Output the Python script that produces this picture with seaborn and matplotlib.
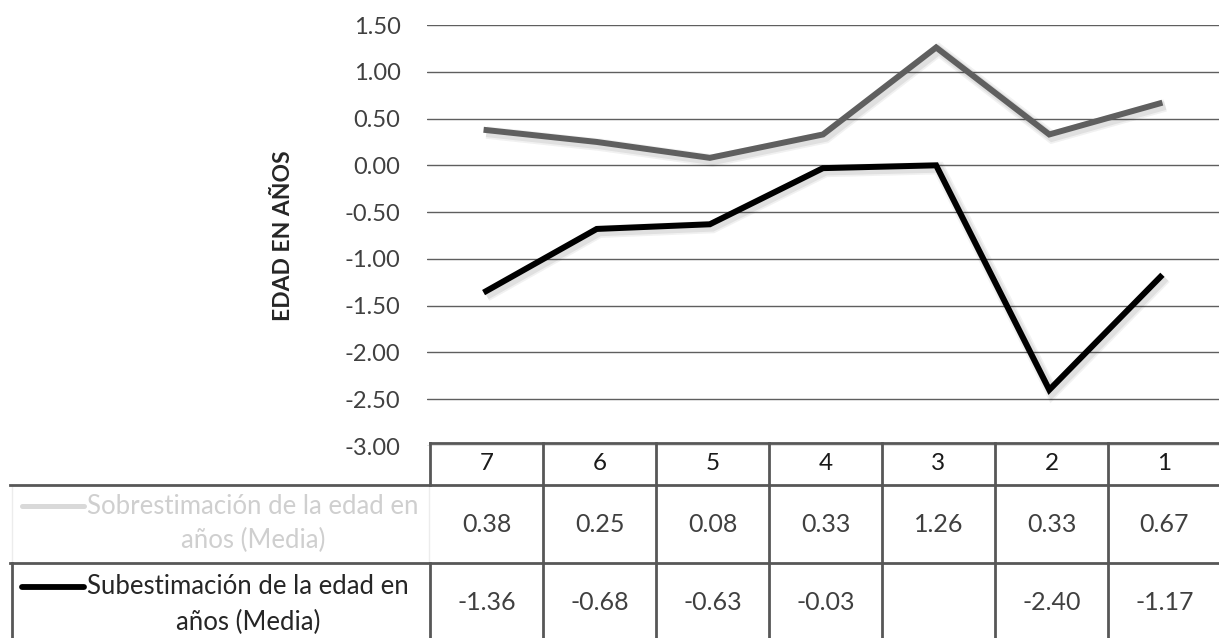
import numpy as np
import pandas as pd
import matplotlib
matplotlib.use("Agg")
import matplotlib.pyplot as plt
import matplotlib.patheffects as pe
from matplotlib.lines import Line2D
import seaborn as sns

# ---- data ----
categorias = ["7", "6", "5", "4", "3", "2", "1"]
sobrestimacion = [0.38, 0.25, 0.08, 0.33, 1.26, 0.33, 0.67]
subestimacion = [-1.36, -0.68, -0.63, -0.03, 0.00, -2.40, -1.17]
serie_sobre = "Sobrestimación de la edad en años (Media)"
serie_sub = "Subestimación de la edad en años (Media)"
y_ticks = [1.50, 1.00, 0.50, 0.00, -0.50, -1.00, -1.50, -2.00, -2.50, -3.00]
y_label = "EDAD EN AÑOS"

df = pd.DataFrame({
    "pos": list(range(len(categorias))) * 2,
    "valor": sobrestimacion + subestimacion,
    "serie": [serie_sobre] * len(categorias) + [serie_sub] * len(categorias),
})

# ---- figure ----
W, H = 1219, 638
sns.set_theme(style="white")
plt.rcParams["font.family"] = ["Lato", "DejaVu Sans"]

fig = plt.figure(figsize=(W / 100, H / 100), dpi=100)


def fx(px):
    return px / W


def fy(py):
    return 1 - py / H


ax = fig.add_axes([fx(427), fy(446), fx(1219) - fx(427), fy(25) - fy(446)])

colores = {serie_sobre: "#5f5f5f", serie_sub: "#000000"}
sns.lineplot(data=df, x="pos", y="valor", hue="serie", palette=colores,
             sort=False, legend=False, ax=ax, linewidth=4.3)

for ln in ax.get_lines():
    ln.set_solid_capstyle("butt")
    ln.set_solid_joinstyle("miter")
    ln.set_path_effects([
        pe.SimpleLineShadow(offset=(2.0, -2.0), shadow_color="k", alpha=0.06, linewidth=9),
        pe.SimpleLineShadow(offset=(2.0, -2.0), shadow_color="k", alpha=0.08, linewidth=6.5),
        pe.Normal(),
    ])

ax.set_xlim(-0.5, len(categorias) - 0.5)
ax.set_ylim(-3.0, 1.5)
ax.set_yticks(y_ticks)
ax.set_yticklabels([f"{v:.2f}" for v in y_ticks])
ax.set_xticks([])
ax.set_xlabel("")
ax.set_ylabel("")
ax.yaxis.grid(True, color="#5f5f5f", linewidth=1.0)
ax.set_axisbelow(True)
for s in ax.spines.values():
    s.set_visible(False)
ax.tick_params(axis="y", length=0, pad=19, labelsize=17, labelcolor="#404040")
ax.patch.set_alpha(0)

fig.text(fx(283), fy(236), y_label, rotation=90, ha="center", va="center",
         fontsize=16.5, fontweight="bold", color="#262626")

# ---- data table below the plot ----
dark = "#575757"
faint = "#ececec"
tlw = 2.0
col_w = 113.0
x0 = 430.0
x_end = 1219.0
y_top, y_h, y_r1, y_bot = 443.0, 485.0, 563.0, 638.0


def hline(y, xa, xb, color=dark, lw=tlw):
    fig.add_artist(Line2D([fx(xa), fx(xb)], [fy(y), fy(y)], color=color, lw=lw,
                          solid_capstyle="projecting"))


def vline(x, ya, yb, color=dark, lw=tlw):
    fig.add_artist(Line2D([fx(x), fx(x)], [fy(ya), fy(yb)], color=color, lw=lw,
                          solid_capstyle="projecting"))


# faint frame of the first row label cell
vline(12, y_h, y_r1, color=faint, lw=1.0)
vline(x0 - 1, y_h, y_r1, color=faint, lw=1.0)

hline(y_top, x0, x_end)
hline(y_h, 10, x_end)
hline(y_r1, 10, x_end)
vline(x0, y_top, y_h)
vline(x0, y_r1, y_bot)
vline(12, y_r1, y_bot)
for k in range(1, len(categorias)):
    vline(x0 + col_w * k, y_top, y_bot)

centros = [x0 + col_w * (i + 0.5) for i in range(len(categorias))]
for cx, c in zip(centros, categorias):
    fig.text(fx(cx), fy(463), c, ha="center", va="center", fontsize=17.5, color="#1a1a1a")


def fmt(v):
    return "" if v == 0 else f"{v:.2f}"


for cx, v in zip(centros, sobrestimacion):
    fig.text(fx(cx), fy(524), fmt(v), ha="center", va="center", fontsize=18, color="#404040")
for cx, v in zip(centros, subestimacion):
    fig.text(fx(cx), fy(603), fmt(v), ha="center", va="center", fontsize=18, color="#404040")

# row headers with legend keys
filas = [
    (serie_sobre, "#d9d9d9", "#cfcfcf", 3.6, 506, 540, 253),
    (serie_sub, "#000000", "#262626", 4.2, 587, 622, 248),
]
for nombre, key_col, txt_col, klw, yl1, yl2, xc2 in filas:
    corte = nombre.rfind(" en ") + 3
    linea1, linea2 = nombre[:corte], nombre[corte + 1:]
    fig.add_artist(Line2D([fx(22), fx(84)], [fy(yl1), fy(yl1)], color=key_col, lw=klw))
    fig.text(fx(87), fy(yl1), linea1, ha="left", va="center", fontsize=18.5, color=txt_col)
    fig.text(fx(xc2), fy(yl2), linea2, ha="center", va="center", fontsize=18.5, color=txt_col)

fig.savefig("out.png", dpi=100)
